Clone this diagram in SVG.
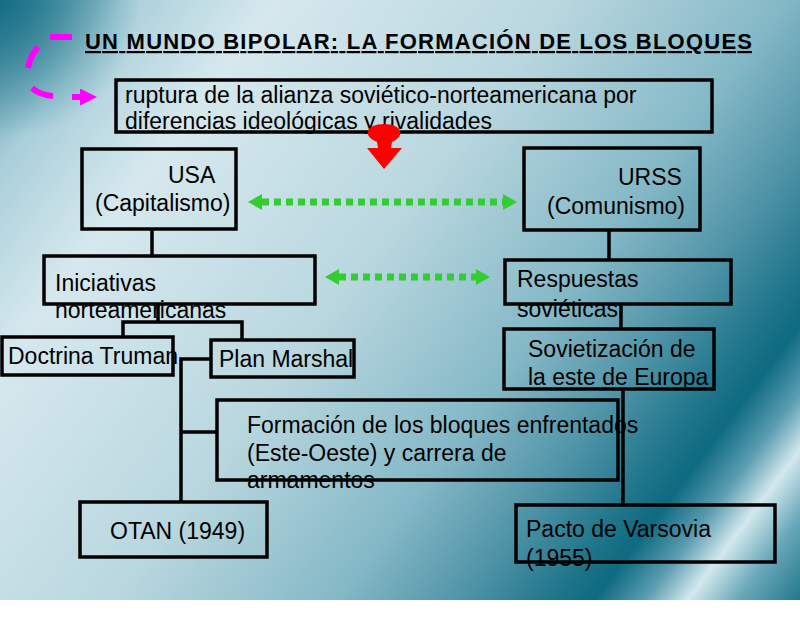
<svg xmlns="http://www.w3.org/2000/svg" width="800" height="631" viewBox="0 0 800 631">
<defs>
<linearGradient id="bg" gradientUnits="userSpaceOnUse" x1="0" y1="0" x2="800" y2="600">
<stop offset="0" stop-color="#4a8fa3"/>
<stop offset="0.1" stop-color="#a9cfda"/>
<stop offset="0.22" stop-color="#d6e8ee"/>
<stop offset="0.45" stop-color="#b9d7df"/>
<stop offset="0.63" stop-color="#84b8c6"/>
<stop offset="0.73" stop-color="#4f93a7"/>
<stop offset="0.8" stop-color="#20768b"/>
<stop offset="0.835" stop-color="#0d6a80"/>
<stop offset="0.875" stop-color="#5a9cb0"/>
<stop offset="0.91" stop-color="#d3e8ee"/>
<stop offset="0.95" stop-color="#6aa8b9"/>
<stop offset="1" stop-color="#23788d"/>
</linearGradient>
<radialGradient id="corner" gradientUnits="userSpaceOnUse" cx="0" cy="0" r="140">
<stop offset="0" stop-color="#0e6a80" stop-opacity="0.9"/>
<stop offset="1" stop-color="#0e6a80" stop-opacity="0"/>
</radialGradient>
<marker id="gh" markerUnits="userSpaceOnUse" markerWidth="14" markerHeight="16" refX="0" refY="8" orient="auto-start-reverse">
<path d="M0,0 L14,8 L0,16 Z" fill="#33cc33"/>
</marker>
<marker id="mh" markerUnits="userSpaceOnUse" markerWidth="17" markerHeight="17" refX="0" refY="8.5" orient="auto">
<path d="M0,0 L17,8.5 L0,17 Z" fill="#ff00ff"/>
</marker>
<style>
.box{fill:none;stroke:#000;stroke-width:3.5}
.t{font-family:"Liberation Sans",Arial,sans-serif;font-size:23px;fill:#000}
.title{font-family:"Liberation Sans",Arial,sans-serif;font-size:22px;font-weight:bold;fill:#000;text-decoration:underline}
.conn{fill:none;stroke:#000;stroke-width:3.5}
.green{fill:none;stroke:#33cc33;stroke-width:7;stroke-dasharray:7 5}
.mag{fill:none;stroke:#ff00ff;stroke-width:6}
</style>
</defs>
<rect x="0" y="0" width="800" height="631" fill="#ffffff"/>
<rect x="0" y="0" width="800" height="600" fill="url(#bg)"/>
<rect x="0" y="0" width="800" height="600" fill="url(#corner)"/>

<g id="title">
<text class="title" x="85" y="49" textLength="667" lengthAdjust="spacing">UN MUNDO BIPOLAR: LA FORMACIÓN DE LOS BLOQUES</text>
</g>

<g id="ruptura">
<text class="t" x="125" y="103">ruptura de la alianza soviético-norteamericana por</text>
<text class="t" x="125" y="129">diferencias ideológicas y rivalidades</text>
<rect class="box" x="116" y="80" width="596" height="52"/>
</g>

<g id="usa">
<text class="t" x="168" y="183">USA</text>
<text class="t" x="95" y="211">(Capitalismo)</text>
<rect class="box" x="82" y="149" width="154" height="80"/>
</g>

<g id="urss">
<text class="t" x="618" y="185">URSS</text>
<text class="t" x="547" y="214">(Comunismo)</text>
<rect class="box" x="524" y="148" width="176" height="82"/>
</g>

<g id="iniciativas">
<text class="t" x="55" y="291">Iniciativas</text>
<text class="t" x="55" y="318">norteamericanas</text>
<rect class="box" x="44" y="256" width="271" height="48"/>
</g>

<g id="respuestas">
<text class="t" x="517" y="287">Respuestas</text>
<text class="t" x="517" y="317">soviéticas</text>
<rect class="box" x="505" y="260" width="226" height="44"/>
</g>

<g id="doctrina">
<text class="t" x="8" y="364">Doctrina Truman</text>
<rect class="box" x="2" y="337" width="171" height="38"/>
</g>

<g id="plan">
<text class="t" x="219" y="367">Plan Marshal</text>
<rect class="box" x="211" y="340" width="143" height="37"/>
</g>

<g id="sovietizacion">
<text class="t" x="528" y="357">Sovietización de</text>
<text class="t" x="528" y="385">la este de Europa</text>
<rect class="box" x="504" y="329" width="210" height="60"/>
</g>

<g id="formacion">
<text class="t" x="247" y="433">Formación de los bloques enfrentados</text>
<text class="t" x="247" y="461">(Este-Oeste) y carrera de</text>
<text class="t" x="247" y="488">armamentos</text>
<rect class="box" x="217" y="400" width="401" height="80"/>
</g>

<g id="otan">
<text class="t" x="110" y="539">OTAN (1949)</text>
<rect class="box" x="80" y="502" width="187" height="55"/>
</g>

<g id="pacto">
<text class="t" x="526" y="537">Pacto de Varsovia</text>
<text class="t" x="526" y="566">(1955)</text>
<rect class="box" x="516" y="505" width="259" height="57"/>
</g>

<g id="connectors">
<path class="conn" d="M152,229 V256"/>
<path class="conn" d="M609,230 V260"/>
<path class="conn" d="M158,304 V322 M123,337 V322 H242 V340"/>
<path class="conn" d="M181,359 H211 M181,357.25 V502 M181,432 H217"/>
<path class="conn" d="M621,304 V329"/>
<path class="conn" d="M623,389 V505"/>
<line class="green" x1="262" y1="202" x2="503" y2="202" marker-start="url(#gh)" marker-end="url(#gh)"/>
<line class="green" x1="339" y1="277" x2="476" y2="277" marker-start="url(#gh)" marker-end="url(#gh)"/>
<path class="mag" d="M72,37 L50,37 M38,47 Q30,56 28,68 M32,88 Q40,95 53,96 M72,97 L80,97" marker-end="url(#mh)"/>
<path d="M384,124 C366,124 362,136 377,142 L378,148 L367,148 L384,169 L402,148 L391,148 L392,142 C406,136 402,124 384,124 Z" fill="#ff0000"/>
</g>
</svg>
